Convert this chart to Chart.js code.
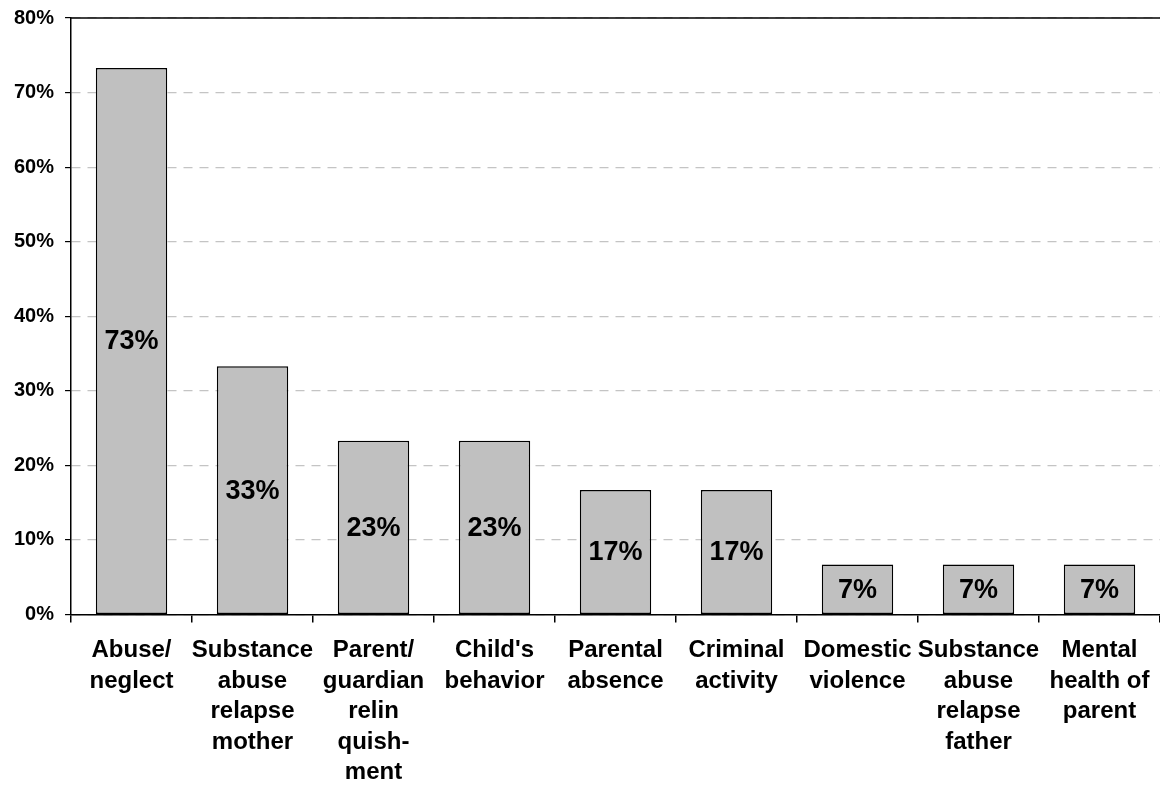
<!DOCTYPE html>
<html>
<head>
<meta charset="utf-8">
<script src="https://cdn.jsdelivr.net/npm/chart.js@4/dist/chart.umd.min.js"></script>
<style>
    html, body { margin: 0; padding: 0; background: #fff; }
    #myCanvas { display: block; }
</style>
</head>
<body>
<canvas id="myCanvas" width="1160" height="785"></canvas>
<script>
// reasons, one label line per entry
const categories = [
    ['Abuse/', 'neglect'],
    ['Substance', 'abuse', 'relapse', 'mother'],
    ['Parent/', 'guardian', 'relin', 'quish-', 'ment'],
    ["Child's", 'behavior'],
    ['Parental', 'absence'],
    ['Criminal', 'activity'],
    ['Domestic', 'violence'],
    ['Substance', 'abuse', 'relapse', 'father'],
    ['Mental', 'health of', 'parent']
];
const percents = [73.3, 33.3, 23.3, 23.3, 16.7, 16.7, 6.7, 6.7, 6.7];
const yTicks = [0, 10, 20, 30, 40, 50, 60, 70, 80];

const FONT = '"Liberation Sans", Arial, sans-serif';

// value text in the middle of each bar, plus solid line along the top
const barText = {
    id: 'barText',
    afterDatasetsDraw(chart) {
        const ctx = chart.ctx;
        const meta = chart.getDatasetMeta(0);
        ctx.save();
        ctx.font = 'bold 27px ' + FONT;
        ctx.fillStyle = '#000';
        ctx.textAlign = 'center';
        ctx.textBaseline = 'middle';
        meta.data.forEach((bar, i) => {
            const mid = (bar.y + bar.base) / 2;
            ctx.fillText(Math.round(percents[i]) + '%', bar.x, mid + 1);
        });
        const a = chart.chartArea;
        ctx.strokeStyle = '#000';
        ctx.lineWidth = 1.5;
        ctx.beginPath();
        ctx.moveTo(a.left, a.top);
        ctx.lineTo(a.right, a.top);
        ctx.stroke();
        ctx.restore();
    }
};

const ctx = document.getElementById('myCanvas');
new Chart(ctx, {
    type: 'bar',
    data: {
        labels: categories,
        datasets: [{
            data: percents,
            backgroundColor: '#c0c0c0',
            borderColor: '#000',
            borderWidth: 1.5,
            borderSkipped: false,
            categoryPercentage: 1,
            barPercentage: 0.59
        }]
    },
    options: {
        responsive: false,
        animation: false,
        layout: {padding: {top: 18, right: 0, bottom: -16, left: 3}},
        plugins: {
            legend: {display: false},
            tooltip: {enabled: false}
        },
        scales: {
            x: {
                afterFit(scale) {
                    scale.paddingRight = 0;
                },
                grid: {
                    drawOnChartArea: false,
                    drawTicks: true,
                    tickLength: 8,
                    color: '#000',
                    lineWidth: 1.5
                },
                border: {color: '#000', width: 1.5},
                ticks: {
                    color: '#000',
                    maxRotation: 0,
                    autoSkip: false,
                    padding: 13,
                    font: {family: FONT, size: 24, weight: 'bold', lineHeight: '30.5px'}
                }
            },
            y: {
                min: 0,
                max: 80,
                afterBuildTicks(scale) {
                    scale.ticks = yTicks.map(v => ({value: v}));
                },
                afterFit(scale) {
                    scale.paddingTop = 0;
                },
                grid: {
                    color: '#c4c4c4',
                    lineWidth: 1.2,
                    tickColor: '#000',
                    tickLength: 6,
                    tickBorderDash: []
                },
                border: {color: '#000', width: 1.5, dash: [9, 7]},
                ticks: {
                    color: '#000',
                    padding: 11,
                    font: {family: FONT, size: 20, weight: 'bold', lineHeight: 1},
                    callback: v => v + '%'
                }
            }
        }
    },
    plugins: [barText]
});
</script>
</body>
</html>
